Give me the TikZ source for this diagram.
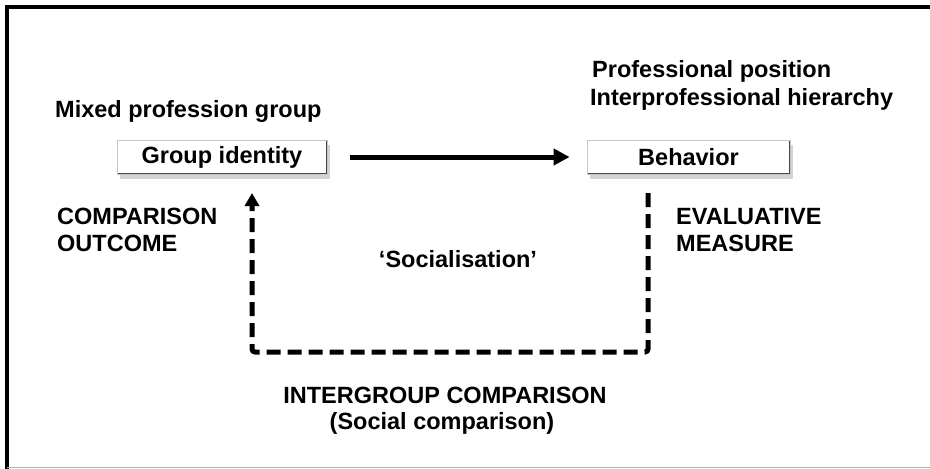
\documentclass[tikz,border=0pt]{standalone}
\usepackage{fontspec}
\setmainfont{Liberation Sans}
\usepackage{tikz}
\usetikzlibrary{positioning}
\usetikzlibrary{calc}
\usetikzlibrary{arrows.meta}
\usetikzlibrary{shadows}

\tikzset{
  lbl/.style={font=\fontsize{23.5}{27}\selectfont\bfseries, inner sep=0pt},
  idbox/.style={lbl, draw=gray!45, line width=0.8pt, fill=white,
    minimum height=34pt,
    drop shadow={shadow xshift=3pt, shadow yshift=-5pt, opacity=0.35},
    path picture={
      \draw[gray!55!black, line width=3pt]
        (path picture bounding box.north east) --
        (path picture bounding box.south east) --
        (path picture bounding box.south west);
    }},
  mainarrow/.style={line width=5pt, -{Triangle[length=16pt,width=16pt]}},
  looparrow/.style={line width=5pt, dash pattern=on 14pt off 7pt,
    rounded corners=3pt, -{Triangle[length=13pt,width=14pt]}},
}

\begin{document}
\begin{tikzpicture}[x=1pt, y=-1pt]
    \useasboundingbox (0,0) rectangle (930,469);
    % frame
    \draw[line width=4pt] (7,469) -- (7,6.5) -- (930,6.5);
    \draw[gray!60, line width=1.5pt] (7,467.5) -- (930,467.5);

    % boxes
    \node[idbox, minimum width=210pt] (gid) at (222,157) {Group identity};
    \node[idbox, minimum width=203pt] (beh) at (688.5,157) {Behavior};
    \draw[mainarrow] ([xshift=23pt]gid.east) -- ([xshift=-17pt]beh.west);

    % labels
    \node[lbl, anchor=base west] (mixed) at (55,117) {Mixed profession group};
    \node[lbl, anchor=base west] (profpos) at (592,77) {Professional position};
    \node[lbl, anchor=base west] (hier) at (590,105) {Interprofessional hierarchy};
    \node[lbl, anchor=base west] (cmp1) at (57,224) {COMPARISON};
    \node[lbl, anchor=base west] (cmp2) at (57,251) {OUTCOME};
    \node[lbl, anchor=base west] (eval1) at (676,224) {EVALUATIVE};
    \node[lbl, anchor=base west] (eval2) at (676,251) {MEASURE};
    \node[lbl, anchor=base] (social) at (458,267) {`Socialisation'};
    \node[lbl, anchor=base] (inter1) at (445,403) {INTERGROUP COMPARISON};
    \node[lbl, anchor=base] (inter2) at (442,429) {(Social comparison)};

    % feedback loop
    \coordinate (loopR) at (648,193);
    \coordinate (loopL) at (252,193);
    \coordinate (loopB) at (450,352);
    \draw[looparrow] (loopR) -- (loopR |- loopB) -- (loopL |- loopB) -- (loopL);
\end{tikzpicture}
\end{document}
